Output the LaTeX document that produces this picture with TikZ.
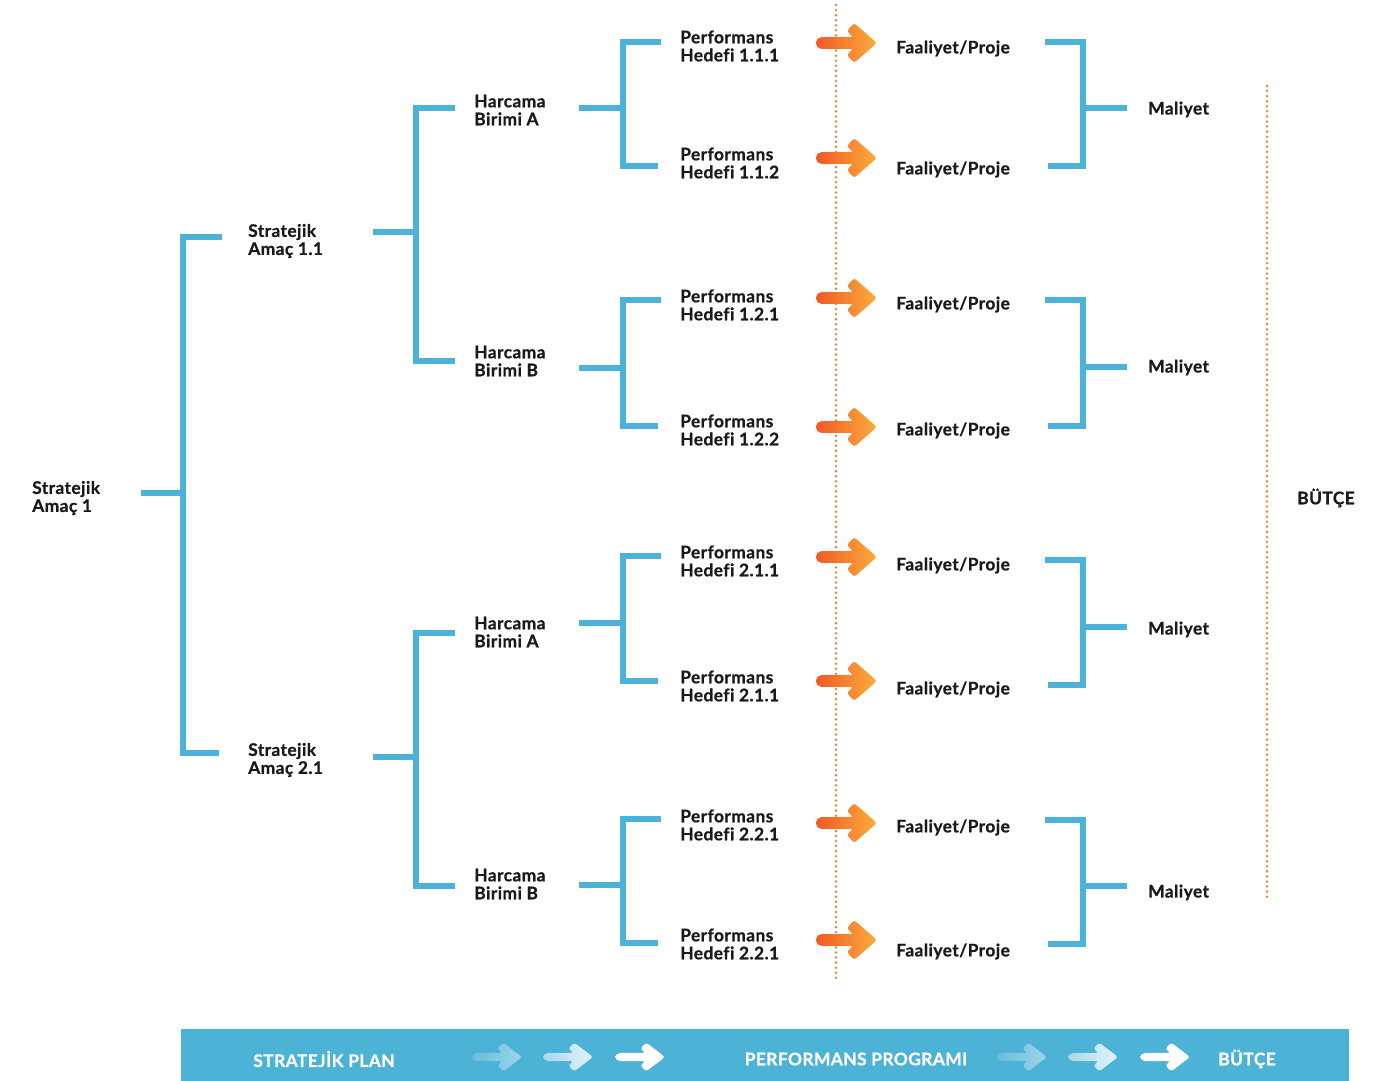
\documentclass[tikz,border=0pt]{standalone}
\usepackage{fontspec}
\setmainfont{Lato}[LetterSpace=2.5,Ligatures={NoCommon},BoldFeatures={FakeBold=0.8}]
\usepackage{xcolor}
\usepackage{tikz}
\usetikzlibrary{positioning}

\definecolor{brkblue}{HTML}{4BB3D9}
\definecolor{barblue}{HTML}{4CB2D6}
\definecolor{orgA}{HTML}{F15A24}
\definecolor{orgB}{HTML}{FBAD3C}
\definecolor{dotorg}{HTML}{F47F3A}
\definecolor{txt}{HTML}{1A1A1A}

\tikzset{
  lbl/.style={anchor=west,inner sep=0pt,align=left,text=txt,
    font=\fontsize{13}{13.5}\selectfont\bfseries},
  barlbl/.style={inner sep=0pt,text=white,font=\fontsize{13}{13.5}\selectfont\bfseries},
  brk/.style={draw=brkblue,line width=4.6pt,line join=miter},
  dots/.style={draw=dotorg,line width=2.1pt,line cap=round,dash pattern=on 0pt off 3.8pt},
  pics/farrow/.style 2 args={code={
    \shade[left color=#1,right color=#2,rounded corners=2pt]
      (61,0) -- (38,-20) -- (30.8,-11.7) -- (37.3,-5.8)
      [rounded corners=4pt] -- (0,-5.8) -- (0,5.8)
      [rounded corners=2pt] -- (37.3,5.8) -- (30.8,11.7) -- (38,20) -- cycle;
  }}
}

\begin{document}
\begin{tikzpicture}[x=0.75pt,y=-0.75pt]
		\useasboundingbox (0,0) rectangle (1389,1081);
		%
		\node[lbl] (sa1) at (32,498) {Stratejik\\Amaç 1};
		\node[lbl] (sa11) at (248,241) {Stratejik\\Amaç 1.1};
		\node[lbl] (sa21) at (248,760) {Stratejik\\Amaç 2.1};
		\node[lbl] (hbA1) at (474,110) {Harcama\\Birimi A};
		\node[lbl] (hbB1) at (474,361) {Harcama\\Birimi B};
		\node[lbl] (hbA2) at (474,632) {Harcama\\Birimi A};
		\node[lbl] (hbB2) at (474,884) {Harcama\\Birimi B};
		%
		\foreach \y/\n/\t in {46/ph1/1.1.1,163/ph2/1.1.2,305/ph3/1.2.1,430/ph4/1.2.2,
		    561/ph5/2.1.1,686/ph6/2.1.1,825/ph7/2.2.1,944/ph8/2.2.1}
		  \node[lbl] (\n) at (680,\y) {Performans\\Hedefi \t};
		\foreach \y/\n in {48.5/fp1,169.5/fp2,304.5/fp3,430.5/fp4,565.5/fp5,689.5/fp6,827.5/fp7,951.5/fp8}
		  \node[lbl] (\n) at (896,\y) {Faaliyet/Proje};
		\foreach \y/\n in {109.5/ml1,367.5/ml2,629.5/ml3,892.5/ml4}
		  \node[lbl] (\n) at (1148,\y) {Maliyet};
		\node[lbl] (btc) at (1297,498) {BÜTÇE};
		%
		\foreach \xs/\xv/\xa/\xb/\ys/\yt/\yb in {141/183/222/219/493/237/753,
		    373/416/455/455/232/108/361, 373/416/455/455/757/633/886,
		    579/623/661/658/108/42/166, 579/623/661/658/368/300/426,
		    579/623/661/658/623/556/681, 579/623/661/658/885/819/943,
		    1127/1083/1045/1048/108/42/166, 1127/1083/1045/1048/367/300/426,
		    1127/1083/1045/1048/627/560/685, 1127/1083/1045/1048/886/820/944}{
		  \draw[brk] (\xs,\ys) -- (\xv,\ys);
		  \draw[brk] (\xa,\yt) -- (\xv,\yt) -- (\xv,\yb) -- (\xb,\yb);
		}
		%
		\draw[dots] (836,5) -- (836,978);
		\draw[dots] (1267,86) -- (1267,900);
		\foreach \y in {43,158,298,427,557,681,823,940}
		  \pic at (816,\y) {farrow={orgA}{orgB}};
		%
		\fill[barblue] (181,1029) rectangle (1349,1081);
		\node[barlbl] (sp) at (324,1059) {STRATEJİK PLAN};
		\node[barlbl] (pp) at (856,1059) {PERFORMANS PROGRAMI};
		\node[barlbl] (bt) at (1247,1059) {BÜTÇE};
		\foreach \x in {0,525}{
		  \pic[xscale=0.82,yscale=0.72] at (472+\x,1057) {farrow={white!15!barblue}{white!45!barblue}};
		  \pic[xscale=0.82,yscale=0.72] at (543+\x,1057) {farrow={white!50!barblue}{white!85!barblue}};
		  \pic[xscale=0.82,yscale=0.72] at (615+\x,1057) {farrow={white}{white}};
		}
		\end{tikzpicture}
\end{document}
